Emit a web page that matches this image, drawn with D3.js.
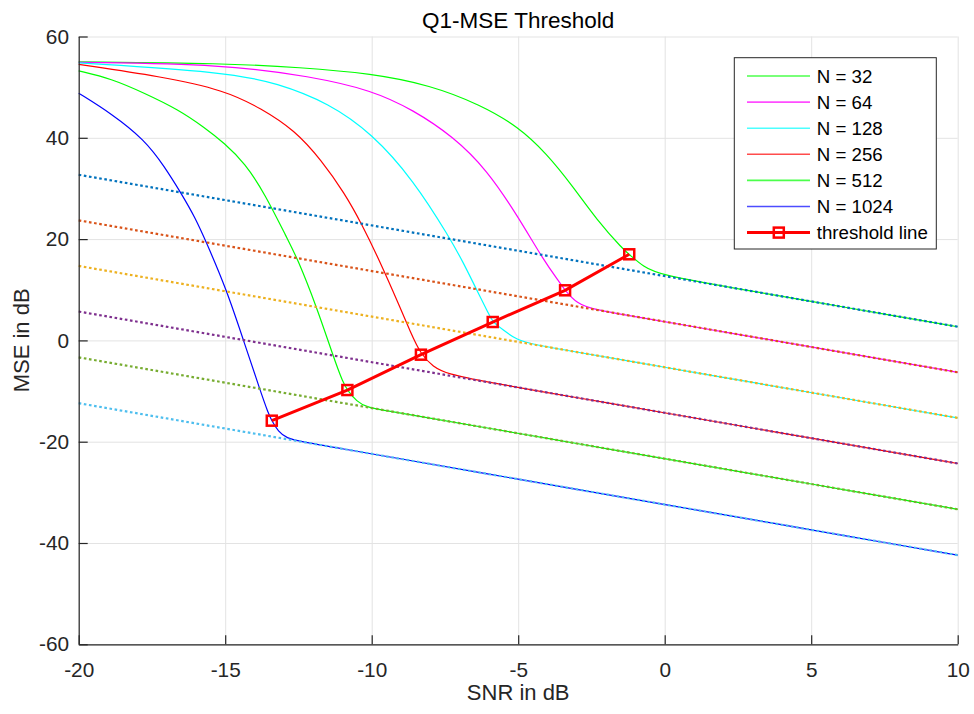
<!DOCTYPE html>
<html>
<head>
<meta charset="utf-8">
<script src="https://cdn.jsdelivr.net/npm/d3@7"></script>
<style>
  body { margin: 0; background: #fff; }
  svg { font-family: "Liberation Sans", Arial, Helvetica, sans-serif; }
</style>
</head>
<body>
<script>
// values
const snrTicks = [-20, -15, -10, -5, 0, 5, 10]
const mseTicks = [-60, -40, -20, 0, 20, 40, 60]
const seriesNames = ['N = 32', 'N = 64', 'N = 128', 'N = 256', 'N = 512', 'N = 1024']

const snrN32 = [-20, -15.02, -12.44, -10.0, -8.0, -6.28, -5.0, -4.03, -3.12, -2.32, -1.41, -1.21, -0.73, -0.16, 2.5, 5, 7.5, 10]
const mseN32 = [55.0, 54.7, 53.9, 52.7, 50.4, 46.5, 42.2, 36.9, 30.3, 23.8, 17.9, 17.0, 14.55, 12.9, 10.2, 7.7, 5.2, 2.7]

const snrN64 = [-20, -15.02, -12.06, -10.0, -8.58, -7.21, -6.07, -5.0, -4.14, -3.57, -3.40, -3.0, -2.44, -1, 1, 3, 5, 7.5, 10]
const mseN64 = [54.9, 54.5, 52.1, 49.4, 45.5, 40.2, 33.7, 24.4, 15.9, 11.3, 9.89, 7.3, 6.1, 4.7, 2.7, 0.7, -1.3, -3.8, -6.3]

const snrN128 = [-20, -15.02, -13.2, -11.45, -10.0, -8.58, -7.33, -6.87, -6.53, -5.96, -5.87, -5.51, -5.05, -4.48, -3, -1, 1, 3, 5, 7.5, 10]
const mseN128 = [54.8, 53.0, 50.8, 46.8, 40.9, 31.7, 20.2, 15.3, 11.3, 4.7, 3.63, 2.05, 0.08, -0.8, -2.3, -4.3, -6.3, -8.3, -10.3, -12.8, -15.3]

const snrN256 = [-20, -17.18, -15.02, -13.77, -12.63, -11.72, -10.92, -10.35, -9.72, -9.03, -8.69, -8.32, -7.9, -7.44, -6, -4, -2, 0, 2.5, 5, 7.5, 10]
const mseN256 = [54.5, 52.1, 49.4, 45.8, 41.5, 35.6, 29.0, 23.1, 15.6, 6.5, 1.8, -2.82, -5.2, -6.6, -8.3, -10.3, -12.3, -14.3, -16.8, -19.3, -21.8, -24.3]

const snrN512 = [-20, -18.89, -17.75, -16.61, -15.7, -15.02, -14.33, -13.65, -12.86, -12.56, -11.88, -11.31, -10.97, -10.83, -10.51, -10.17, -9.49, -8, -6, -4, -2, 0, 2.5, 5, 7.5, 10]
const mseN512 = [53.2, 51.7, 48.8, 45.6, 42.0, 38.9, 35.0, 29.0, 19.8, 16.5, 6.65, -3.2, -8.5, -9.8, -12.1, -13.2, -13.9, -15.35, -17.35, -19.35, -21.35, -23.35, -25.85, -28.35, -30.85, -33.35]

const snrN1024 = [-20, -18.89, -17.75, -17.07, -16.5, -16.04, -15.63, -14.95, -14.38, -13.81, -13.53, -13.41, -13.19, -12.9, -12.45, -11, -9, -6, -3, 0, 2.5, 5, 7.5, 10]
const mseN1024 = [48.8, 44.8, 39.6, 34.3, 29.0, 24.4, 19.2, 9.95, 0.08, -9.8, -14.4, -15.85, -18.0, -19.3, -19.95, -21.4, -23.4, -26.4, -29.4, -32.4, -34.9, -37.4, -39.9, -42.4]

// dotted bound lines, value at SNR -20 and at SNR 10
const boundSnr = [-20, 10]
const boundStart = [32.7, 23.7, 14.7, 5.7, -3.35, -12.4]
const boundEnd = [2.7, -6.3, -15.3, -24.3, -33.35, -42.4]

const thresholdSnr = [-13.41, -10.83, -8.32, -5.87, -3.40, -1.21]
const thresholdMse = [-15.85, -9.8, -2.82, 3.63, 9.89, 17.0]

// styles
const curveColors = ['#00ff00', '#ff00ff', '#00ffff', '#ff0000', '#00ff00', '#0000ff']
const boundColors = ['#0072bd', '#d95319', '#edb120', '#7e2f8e', '#77ac30', '#4dbeee']
const ink = '#262626'

let width = 974,
  height = 714,
  plot = { left: 78.7, right: 957.7, top: 36.5, bottom: 644.3 }

let svg = d3.select('body').append('svg')
  .attr('width', width)
  .attr('height', height)

let x = d3.scaleLinear().domain([-20, 10]).range([plot.left, plot.right])
let y = d3.scaleLinear().domain([-60, 60]).range([plot.bottom, plot.top])

// grid
svg.append('g')
  .attr('transform', 'translate(0,' + plot.bottom + ')')
  .call(d3.axisBottom(x).tickValues(snrTicks).tickSize(-(plot.bottom - plot.top)).tickFormat(''))
  .call(g => g.select('.domain').remove())
  .call(g => g.selectAll('line').attr('stroke', '#e3e3e3'))
svg.append('g')
  .attr('transform', 'translate(' + plot.left + ',0)')
  .call(d3.axisLeft(y).tickValues(mseTicks).tickSize(-(plot.right - plot.left)).tickFormat(''))
  .call(g => g.select('.domain').remove())
  .call(g => g.selectAll('line').attr('stroke', '#e3e3e3'))

let line = d3.line()
  .x(d => x(d[0]))
  .y(d => y(d[1]))
  .curve(d3.curveBasis)

let curves = [
  d3.zip(snrN32, mseN32),
  d3.zip(snrN64, mseN64),
  d3.zip(snrN128, mseN128),
  d3.zip(snrN256, mseN256),
  d3.zip(snrN512, mseN512),
  d3.zip(snrN1024, mseN1024)
]

let plotArea = svg.append('g')

plotArea.selectAll('path.curve')
  .data(curves)
  .enter()
  .append('path')
  .attr('class', 'curve')
  .attr('d', line)
  .attr('fill', 'none')
  .attr('stroke', (d, i) => curveColors[i])
  .attr('stroke-width', 1.2)

let bounds = boundStart.map((v, i) => [[boundSnr[0], v], [boundSnr[1], boundEnd[i]]])

plotArea.selectAll('path.bound')
  .data(bounds)
  .enter()
  .append('path')
  .attr('class', 'bound')
  .attr('d', d3.line().x(d => x(d[0])).y(d => y(d[1])))
  .attr('fill', 'none')
  .attr('stroke', (d, i) => boundColors[i])
  .attr('stroke-width', 2.2)
  .attr('stroke-dasharray', '2.6,2.6')

let threshold = d3.zip(thresholdSnr, thresholdMse)

plotArea.append('path')
  .datum(threshold)
  .attr('d', d3.line().x(d => x(d[0])).y(d => y(d[1])))
  .attr('fill', 'none')
  .attr('stroke', '#ff0000')
  .attr('stroke-width', 3)

plotArea.selectAll('rect.marker')
  .data(threshold)
  .enter()
  .append('rect')
  .attr('class', 'marker')
  .attr('x', d => x(d[0]) - 5)
  .attr('y', d => y(d[1]) - 5)
  .attr('width', 10)
  .attr('height', 10)
  .attr('fill', 'none')
  .attr('stroke', '#ff0000')
  .attr('stroke-width', 2.5)

// axes, plain hyphen for negative labels
let axisX = svg.append('g')
  .attr('transform', 'translate(0,' + plot.bottom + ')')
  .call(d3.axisBottom(x).tickValues(snrTicks).tickFormat(d => String(d))
    .tickSizeInner(-9).tickSizeOuter(0).tickPadding(17.9))
let axisY = svg.append('g')
  .attr('transform', 'translate(' + plot.left + ',0)')
  .call(d3.axisLeft(y).tickValues(mseTicks).tickFormat(d => String(d))
    .tickSizeInner(-9).tickSizeOuter(0).tickPadding(9.7))

;[axisX, axisY].forEach(g => {
  g.attr('font-family', null).attr('font-size', null)
  g.select('.domain').attr('stroke', ink).attr('stroke-width', 1.2)
  g.selectAll('line').attr('stroke', ink).attr('stroke-width', 1.2)
  g.selectAll('text').attr('fill', ink).style('font-size', '20.8px')
})

svg.append('text')
  .attr('x', (plot.left + plot.right) / 2)
  .attr('y', 27.5)
  .attr('text-anchor', 'middle')
  .attr('fill', '#000')
  .style('font-size', '22.5px')
  .text('Q1-MSE Threshold')

svg.append('text')
  .attr('x', (plot.left + plot.right) / 2)
  .attr('y', 700)
  .attr('text-anchor', 'middle')
  .attr('fill', ink)
  .style('font-size', '22px')
  .text('SNR in dB')

svg.append('text')
  .attr('transform', 'translate(28.5,' + ((plot.top + plot.bottom) / 2) + ') rotate(-90)')
  .attr('text-anchor', 'middle')
  .attr('fill', ink)
  .style('font-size', '22px')
  .text('MSE in dB')

// legend
let legend = svg.append('g').attr('transform', 'translate(734.3,57.7)')
legend.append('rect')
  .attr('width', 202)
  .attr('height', 191.3)
  .attr('fill', '#fff')
  .attr('stroke', ink)
  .attr('stroke-width', 1)

let legendRows = seriesNames.concat(['threshold line'])
let rows = legend.selectAll('g.row')
  .data(legendRows)
  .enter()
  .append('g')
  .attr('class', 'row')
  .attr('transform', (d, i) => 'translate(0,' + (18.3 + i * 26.1) + ')')

rows.append('line')
  .attr('x1', 12.7)
  .attr('x2', 75.7)
  .attr('stroke', (d, i) => i < 6 ? curveColors[i] : '#ff0000')
  .attr('stroke-opacity', (d, i) => i < 6 ? 0.7 : 1)
  .attr('stroke-width', (d, i) => i < 6 ? 1.6 : 3)

rows.filter((d, i) => i === 6)
  .append('rect')
  .attr('x', 39.5)
  .attr('y', -5)
  .attr('width', 10)
  .attr('height', 10)
  .attr('fill', 'none')
  .attr('stroke', '#ff0000')
  .attr('stroke-width', 2.5)

rows.append('text')
  .attr('x', 82.4)
  .attr('dy', '0.35em')
  .attr('fill', '#000')
  .style('font-size', '18.7px')
  .text(d => d)
</script>
</body>
</html>
